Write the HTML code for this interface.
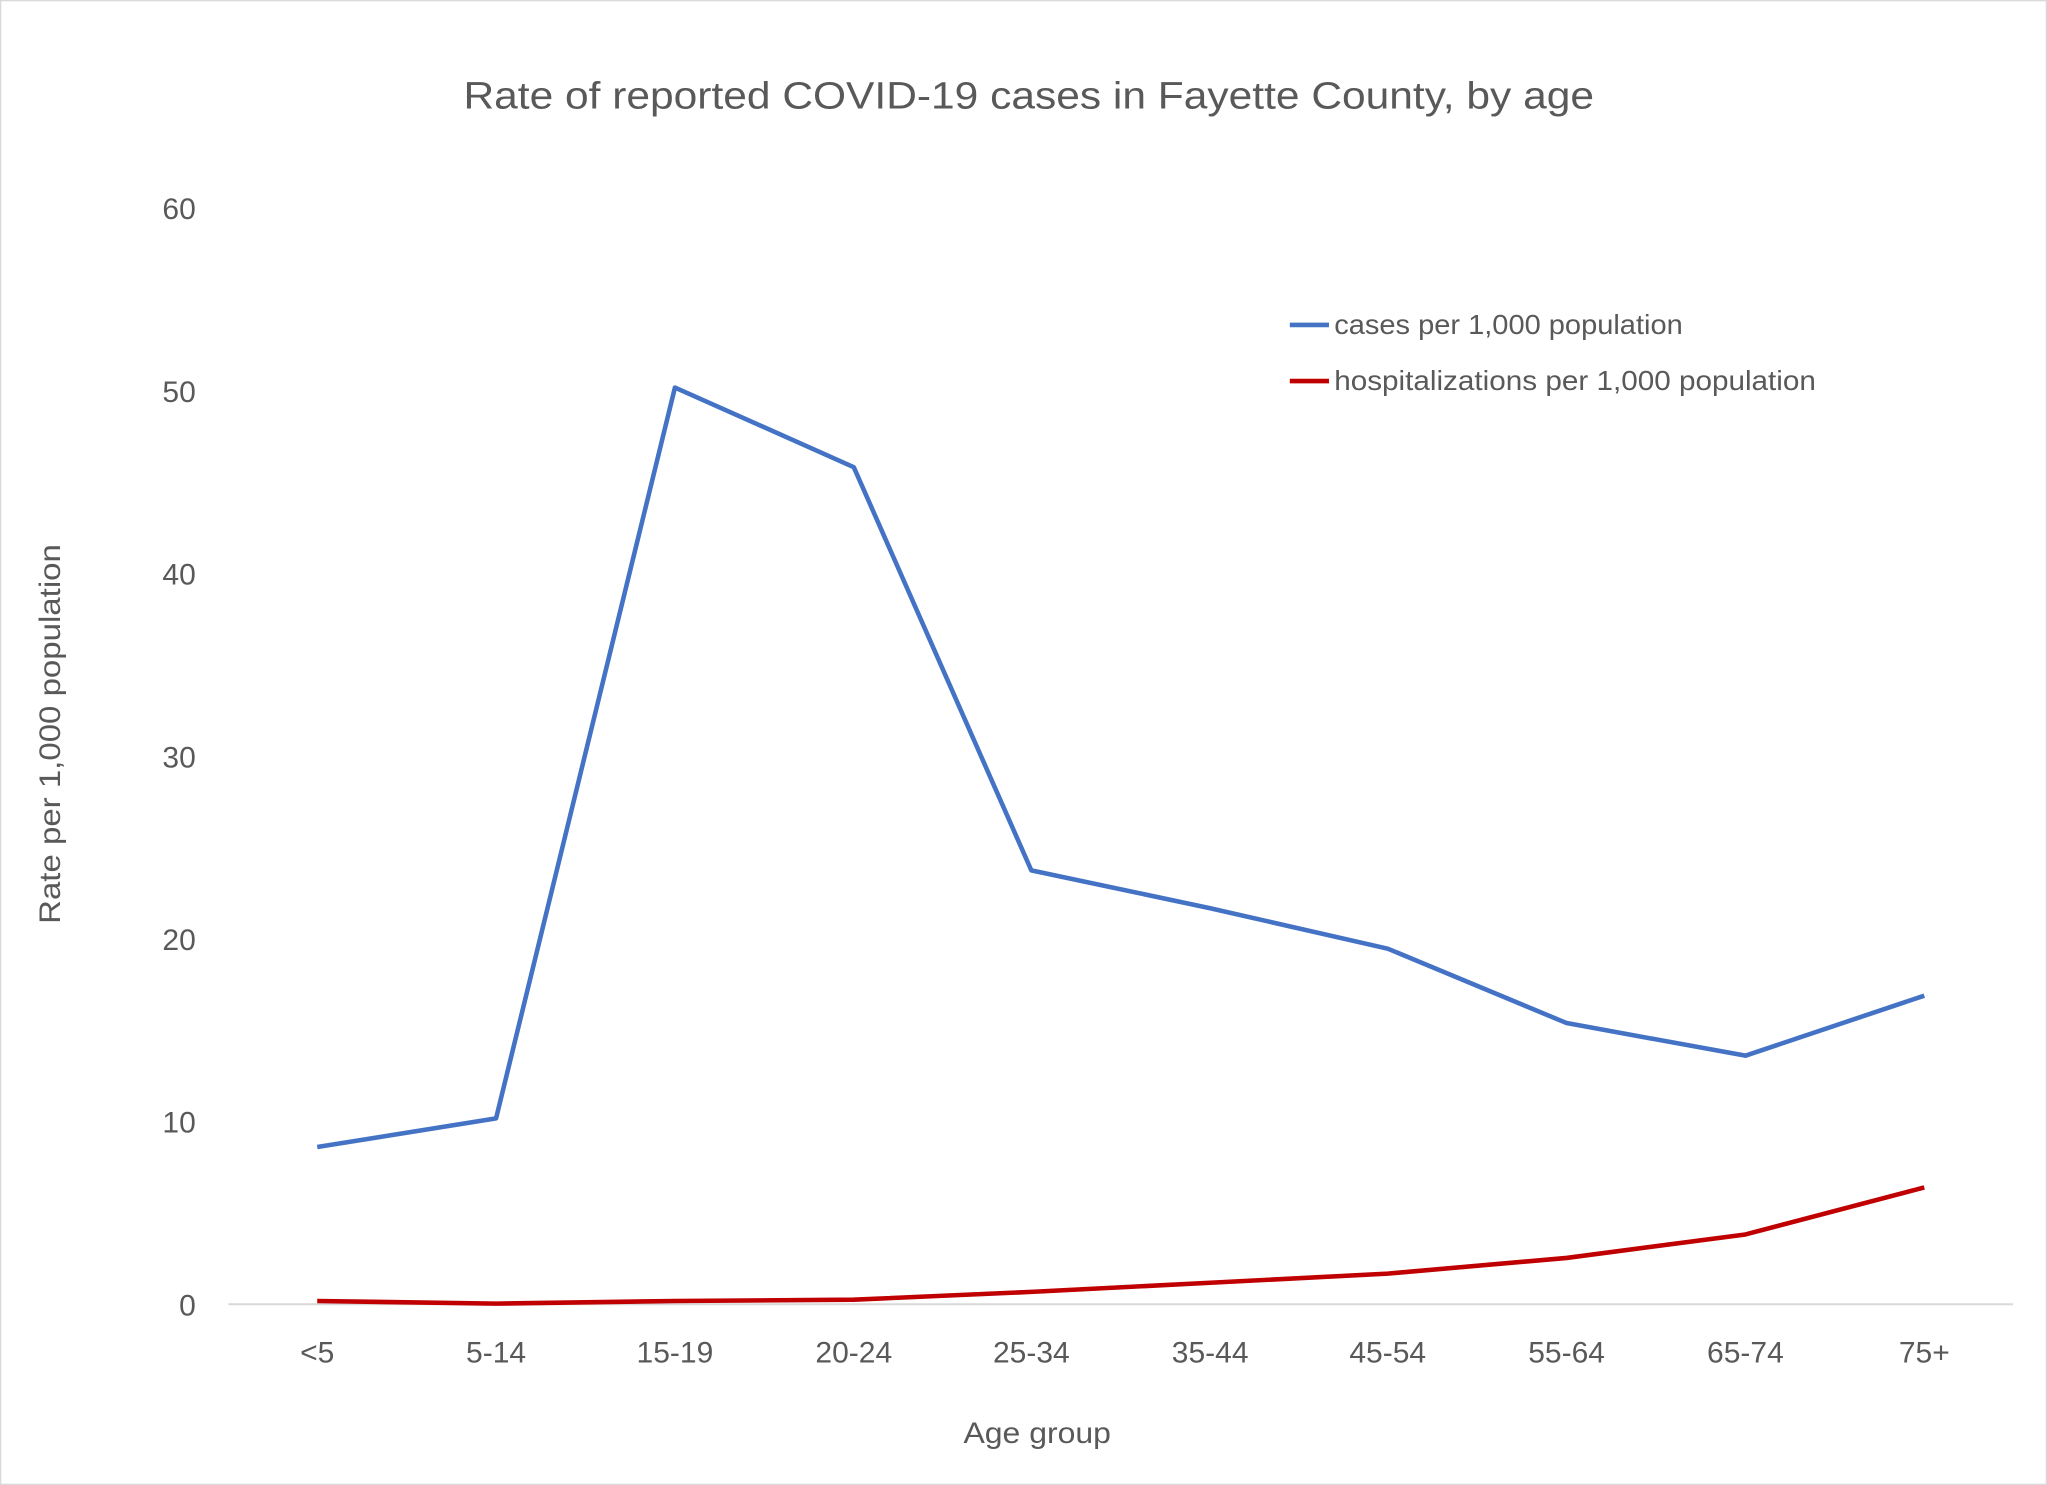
<!DOCTYPE html>
<html><head><meta charset="utf-8"><style>
html,body{margin:0;padding:0;background:#fff;}
svg{display:block;}
text{font-family:"Liberation Sans","DejaVu Sans",sans-serif;fill:#595959;}
</style></head><body>
<svg width="2047" height="1485" viewBox="0 0 1568 1138" preserveAspectRatio="none" xmlns="http://www.w3.org/2000/svg">
<rect x="0.5" y="0.5" width="1567" height="1137" fill="#fff" stroke="#d9d9d9" stroke-width="1"/>
<text x="355" y="83" font-size="29" textLength="866" lengthAdjust="spacingAndGlyphs">Rate of reported COVID-19 cases in Fayette County, by age</text>
<g font-size="23" text-anchor="end">
<text x="150" y="168">60</text>
<text x="150" y="308">50</text>
<text x="150" y="448">40</text>
<text x="150" y="588">30</text>
<text x="150" y="728">20</text>
<text x="150" y="868">10</text>
<text x="150" y="1008">0</text>
</g>
<line x1="175" y1="999.5" x2="1542" y2="999.5" stroke="#d9d9d9" stroke-width="1.5"/>
<g font-size="23" text-anchor="middle">
<text x="243" y="1044">&lt;5</text>
<text x="380" y="1044">5-14</text>
<text x="517" y="1044">15-19</text>
<text x="654" y="1044">20-24</text>
<text x="790" y="1044">25-34</text>
<text x="927" y="1044">35-44</text>
<text x="1063" y="1044">45-54</text>
<text x="1200" y="1044">55-64</text>
<text x="1337" y="1044">65-74</text>
<text x="1474" y="1044">75+</text>
</g>
<text x="738" y="1106" font-size="23" textLength="113" lengthAdjust="spacingAndGlyphs">Age group</text>
<text transform="translate(46,708) rotate(-90)" font-size="23" textLength="291" lengthAdjust="spacingAndGlyphs">Rate per 1,000 population</text>
<polyline fill="none" stroke="#4472c4" stroke-width="3.5" stroke-linejoin="round" points="243,879 380,857 517,297 654,358 790,667 927,696 1063,727 1200,784 1337,809 1474,763"/>
<polyline fill="none" stroke="#c00000" stroke-width="3.5" stroke-linejoin="round" points="243,997 380,999 517,997 654,996 790,990 927,983 1063,976 1200,964 1337,946 1474,910"/>
<line x1="988" y1="249" x2="1018" y2="249" stroke="#4472c4" stroke-width="3.5"/>
<text x="1022" y="256" font-size="21" textLength="267" lengthAdjust="spacingAndGlyphs">cases per 1,000 population</text>
<line x1="988" y1="292" x2="1018" y2="292" stroke="#c00000" stroke-width="3.5"/>
<text x="1022" y="299" font-size="21" textLength="369" lengthAdjust="spacingAndGlyphs">hospitalizations per 1,000 population</text>
</svg>
</body></html>
